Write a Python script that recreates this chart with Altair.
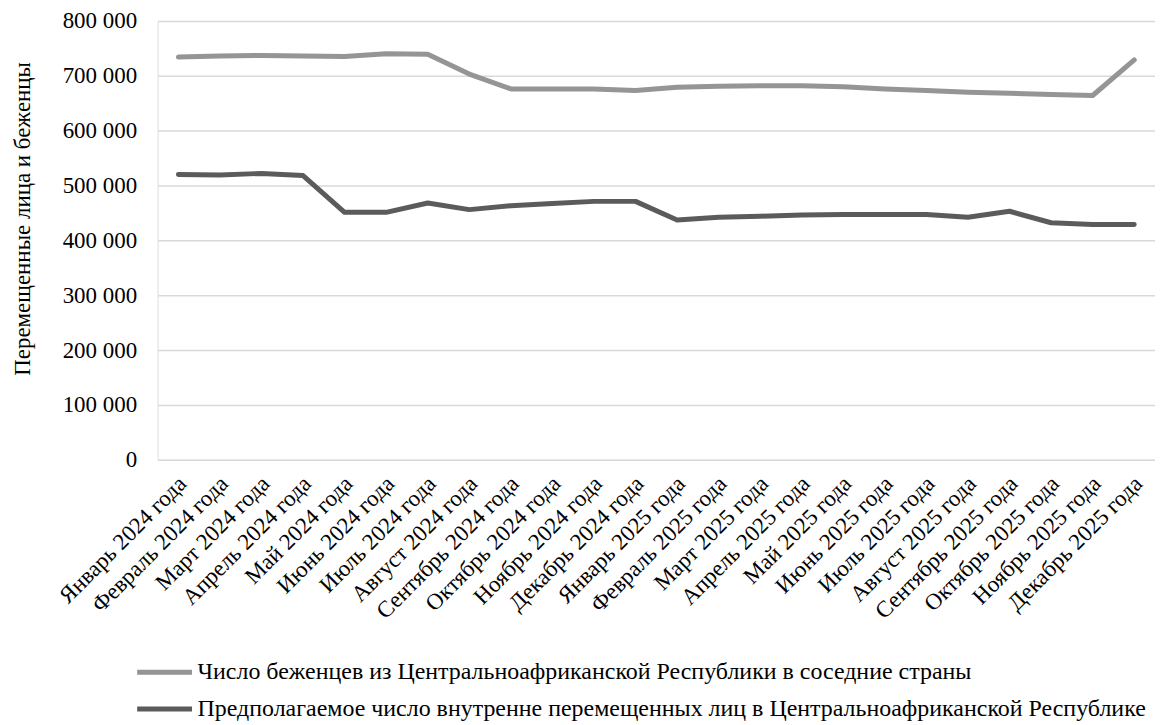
import altair as alt
import pandas as pd

months = [
    "Январь 2024 года", "Февраль 2024 года", "Март 2024 года", "Апрель 2024 года",
    "Май 2024 года", "Июнь 2024 года", "Июль 2024 года", "Август 2024 года",
    "Сентябрь 2024 года", "Октябрь 2024 года", "Ноябрь 2024 года", "Декабрь 2024 года",
    "Январь 2025 года", "Февраль 2025 года", "Март 2025 года", "Апрель 2025 года",
    "Май 2025 года", "Июнь 2025 года", "Июль 2025 года", "Август 2025 года",
    "Сентябрь 2025 года", "Октябрь 2025 года", "Ноябрь 2025 года", "Декабрь 2025 года",
]

series_refugees = "Число беженцев из Центральноафриканской Республики в соседние страны"
series_idps = "Предполагаемое число внутренне перемещенных лиц в Центральноафриканской Республике"

refugees = [734000, 736000, 737000, 736000, 735000, 740000, 739000, 703000,
            676000, 676000, 676000, 673000, 679000, 681000, 682000, 682000,
            680000, 676000, 673000, 670000, 668000, 666000, 664000, 729000]

idps = [520000, 519000, 522000, 518000, 451000, 451000, 468000, 456000,
        463000, 467000, 471000, 471000, 437000, 442000, 444000, 446000,
        447000, 447000, 447000, 442000, 453000, 432000, 429000, 429000]

rows = []
for m, v in zip(months, refugees):
    rows.append({"month": m, "value": v, "series": series_refugees})
for m, v in zip(months, idps):
    rows.append({"month": m, "value": v, "series": series_idps})
df = pd.DataFrame(rows)

FONT = "Liberation Serif"

chart = alt.Chart(df).mark_line(strokeWidth=5, strokeCap="round", strokeJoin="round").encode(
    x=alt.X("month:N", sort=months, title=None,
            scale=alt.Scale(paddingOuter=0.5),
            axis=alt.Axis(labelAngle=-45, labelAlign="right", labelBaseline="middle",
                          labelPadding=20, labelOffset=4, ticks=False, domain=False,
                          grid=False, labelFont=FONT, labelFontSize=23,
                          labelColor="#000000", labelLimit=400)),
    y=alt.Y("value:Q", title="Перемещенные лица и беженцы",
            scale=alt.Scale(domain=[0, 800000], nice=False),
            axis=alt.Axis(values=[0, 100000, 200000, 300000, 400000, 500000, 600000, 700000, 800000],
                          labelExpr="datum.value == 0 ? '0' : floor(datum.value/1000) + ' 000'",
                          ticks=False, domain=False, grid=True, gridColor="#d9d9d9",
                          gridWidth=1.5, labelFont=FONT, labelFontSize=23,
                          labelColor="#000000", labelPadding=21,
                          titleFont=FONT, titleFontSize=23, titleFontWeight="normal",
                          titleColor="#000000", titleAngle=270, titleAlign="center",
                          titleBaseline="middle", titleX=-135, titleY=198)),
    color=alt.Color("series:N", sort=[series_refugees, series_idps],
                    scale=alt.Scale(domain=[series_refugees, series_idps],
                                    range=["#959595", "#5b5b5b"]),
                    legend=alt.Legend(title=None, orient="none", legendX=-5, legendY=641,
                                      direction="vertical", symbolType="M-5,0H5",
                                      symbolStrokeWidth=5, symbolSize=121,
                                      labelFont=FONT, labelFontSize=24, labelColor="#000000",
                                      labelLimit=1200, labelOffset=21, rowPadding=13)),
).properties(
    width=1000,
    height=440,
    autosize=alt.AutoSizeParams(type="none"),
    padding={"left": 150, "top": 12, "right": 0, "bottom": 264},
).configure_view(stroke=None).configure(background="white")

chart.save("out.html", embed_options={"renderer": "svg", "actions": False})
